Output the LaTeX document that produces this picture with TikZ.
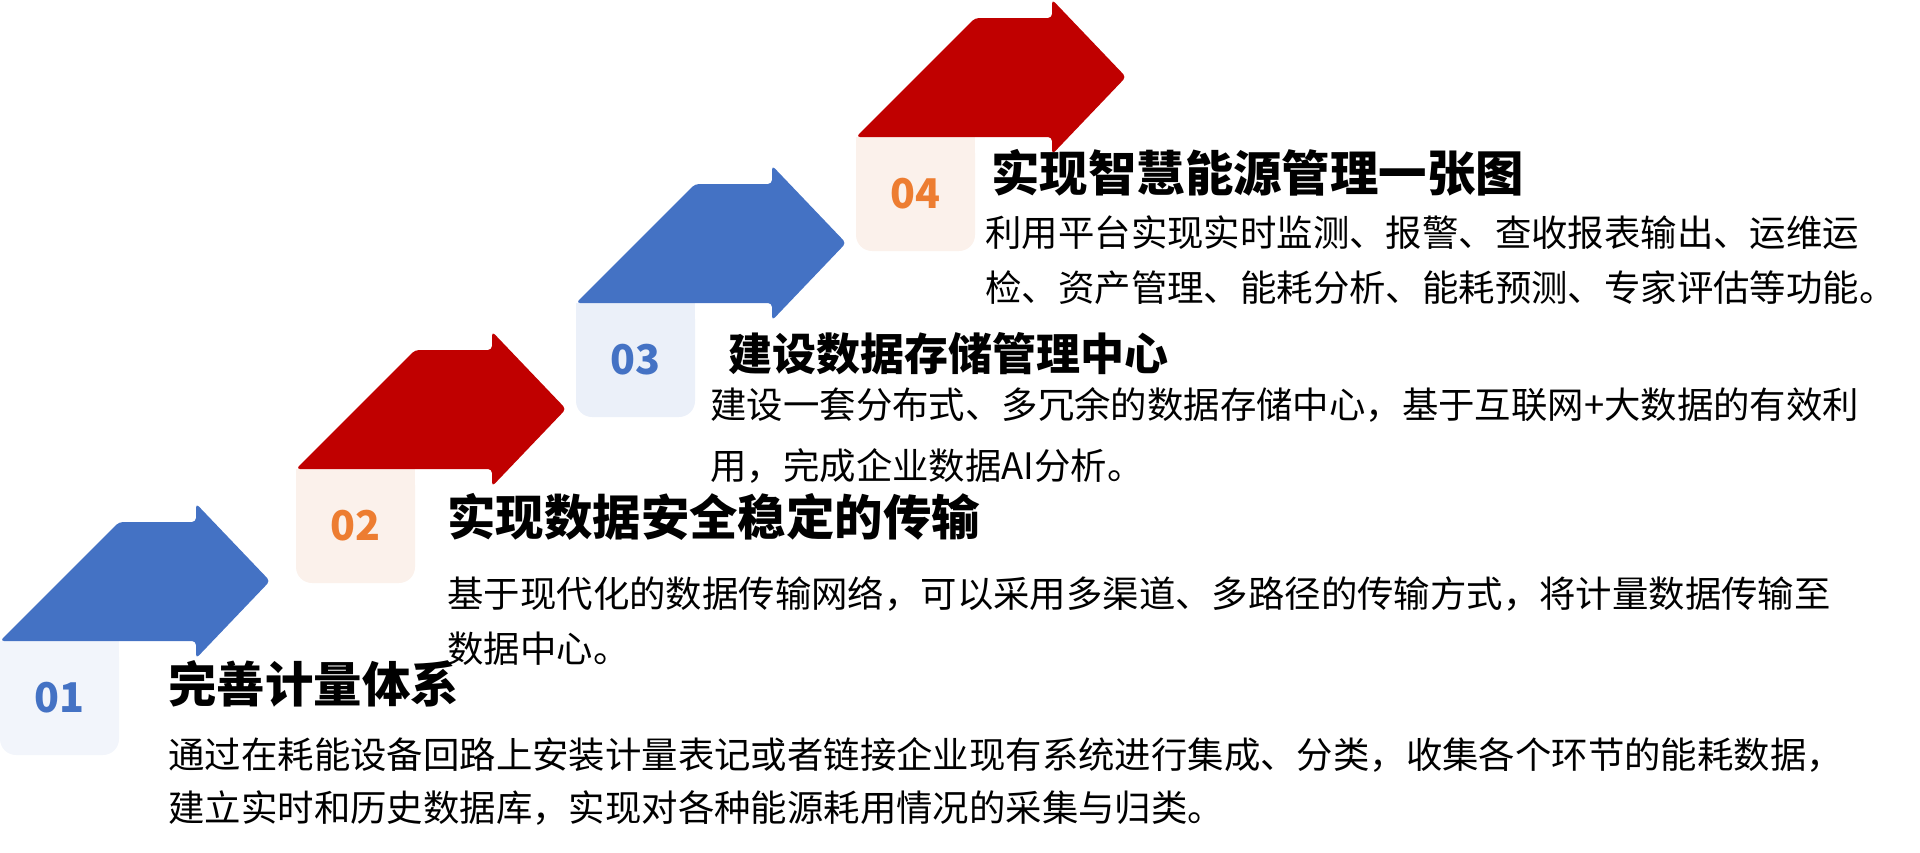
\documentclass[tikz,border=0pt]{standalone}
\usepackage{fontspec}
\newfontfamily\cjk{Noto Sans CJK SC}
\definecolor{ablue}{HTML}{4472C4}
\definecolor{ared}{HTML}{C00000}
\definecolor{norange}{HTML}{ED7D31}
\definecolor{boxbluea}{HTML}{F2F5FB}
\definecolor{boxblueb}{HTML}{EBF0F9}
\definecolor{boxorange}{HTML}{FBF1EB}
\tikzset{
  titletext/.style={anchor=base west, inner sep=0pt, font=\cjk\bfseries\fontsize{24.2pt}{28pt}\selectfont},
  smalltitletext/.style={titletext, font=\cjk\bfseries\fontsize{22pt}{26pt}\selectfont},
  bodytext/.style={anchor=base west, inner sep=0pt, font=\cjk\fontsize{18.2pt}{22pt}\selectfont},
  numtext/.style={inner sep=0pt, font=\cjk\bfseries\fontsize{20.5pt}{24pt}\selectfont},
}
% #1 = left x, #2 = base y, #3 = arrow colour, #4 = box colour, #5 = number colour, #6 = number, #7 = node name
\newcommand\stepunit[7]{%
  \begin{scope}[shift={(#1,#2)}]
    \fill[#4, rounded corners=8] (0,0) rectangle (119,114);
    \fill[#4] (0,0) rectangle (119,30);
    \fill[#3, rounded corners=2] (0,0) -- (119,-119) -- (196,-119) -- (196,-137.5) -- (270,-60) -- (196,17.5) -- (196,0) -- cycle;
    \node[numtext, text=#5] (#7) at (59.5,57) {#6};
  \end{scope}}
\begin{document}
\begin{tikzpicture}[x=0.5pt,y=-0.5pt]
  \useasboundingbox (0,0) rectangle (1920,852);
  \stepunit{0}{641}{ablue}{boxbluea}{ablue}{01}{n1}
  \stepunit{296}{469}{ared}{boxorange}{norange}{02}{n2}
  \stepunit{576}{303}{ablue}{boxblueb}{ablue}{03}{n3}
  \stepunit{856}{137}{ared}{boxorange}{norange}{04}{n4}

  \node[titletext] (t1) at (168,702) {完善计量体系};
  \node[bodytext] (b1a) at (168,768) {通过在耗能设备回路上安装计量表记或者链接企业现有系统进行集成、分类，收集各个环节的能耗数据，};
  \node[bodytext] (b1b) at (168,821) {建立实时和历史数据库，实现对各种能源耗用情况的采集与归类。};

  \node[titletext] (t2) at (447,535) {实现数据安全稳定的传输};
  \node[bodytext] (b2a) at (447,607) {基于现代化的数据传输网络，可以采用多渠道、多路径的传输方式，将计量数据传输至};
  \node[bodytext] (b2b) at (447,662) {数据中心。};

  \node[smalltitletext] (t3) at (728,370) {建设数据存储管理中心};
  \node[bodytext] (b3a) at (710,418) {建设一套分布式、多冗余的数据存储中心，基于互联网+大数据的有效利};
  \node[bodytext] (b3b) at (710,479) {用，完成企业数据AI分析。};

  \node[titletext] (t4) at (991,191) {实现智慧能源管理一张图};
  \node[bodytext] (b4a) at (985,246) {利用平台实现实时监测、报警、查收报表输出、运维运};
  \node[bodytext] (b4b) at (985,301) {检、资产管理、能耗分析、能耗预测、专家评估等功能。};
\end{tikzpicture}
\end{document}
